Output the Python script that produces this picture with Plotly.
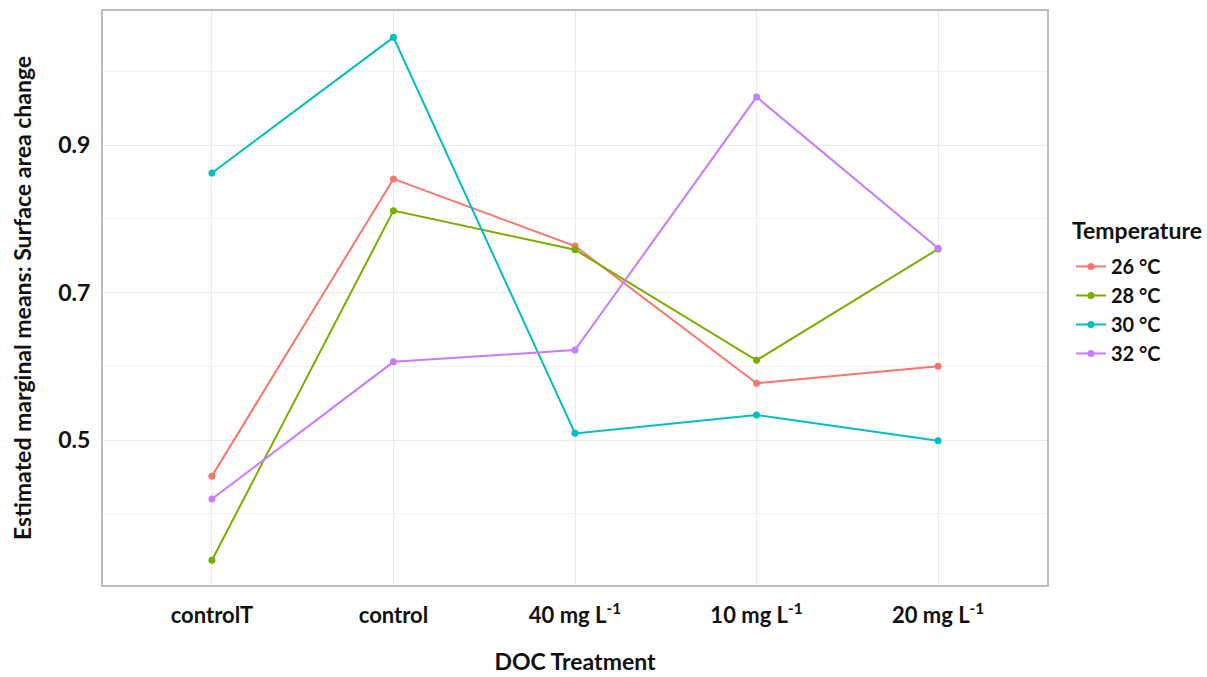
import plotly.graph_objects as go

# Estimated marginal means of surface area change by DOC treatment and temperature
treatments = ["controlT", "control", "40 mg L<sup>-1</sup>", "10 mg L<sup>-1</sup>", "20 mg L<sup>-1</sup>"]
temperatures = ["26 °C", "28 °C", "30 °C", "32 °C"]

emm_26 = [0.451, 0.854, 0.763, 0.577, 0.600]
emm_28 = [0.337, 0.811, 0.758, 0.608, 0.759]
emm_30 = [0.862, 1.046, 0.509, 0.534, 0.499]
emm_32 = [0.420, 0.606, 0.622, 0.965, 0.760]

series = [emm_26, emm_28, emm_30, emm_32]
colors = ["#F8766D", "#7CAE00", "#00BFC4", "#C77CFF"]

FONT = "Lato"
INK = "#111111"

fig = go.Figure()
for name, vals, col in zip(temperatures, series, colors):
    fig.add_trace(go.Scatter(
        x=list(range(len(treatments))), y=vals, name=f"<b>{name}</b>",
        mode="lines+markers",
        line=dict(color=col, width=2),
        marker=dict(color=col, size=7),
    ))

fig.update_layout(
    width=1207, height=677,
    margin=dict(l=103, r=160, t=11, b=92, autoexpand=False),
    paper_bgcolor="white", plot_bgcolor="white",
    font=dict(family=FONT, size=20, color=INK),
    showlegend=True,
    legend=dict(
        font=dict(size=20, family=FONT, color=INK),
        x=1.0254, xanchor="left", y=0.5889, yanchor="top",
        bgcolor="rgba(0,0,0,0)", itemwidth=30,
    ),
)

# legend heading
fig.add_annotation(
    text="<b>Temperature</b>", xref="paper", yref="paper",
    x=1.0244, y=0.6185, xanchor="left", yanchor="middle",
    showarrow=False, font=dict(size=23, family=FONT, color=INK),
)

fig.update_xaxes(
    range=[-0.6, 4.6],
    tickmode="array", tickvals=list(range(len(treatments))),
    ticktext=[f"<b>{t}</b>" for t in treatments],
    tickfont=dict(size=22, family=FONT, color=INK),
    showgrid=True, gridcolor="#EBEBEB", gridwidth=1,
    zeroline=False,
    showline=True, linecolor="#BDBDBD", linewidth=2, mirror=True,
    ticks="", ticklabelstandoff=10,
    automargin=False,
    title=dict(text="<b>DOC Treatment</b>", font=dict(size=23, family=FONT, color=INK), standoff=26),
)

fig.update_yaxes(
    range=[0.3034, 1.0817],
    tickmode="array", tickvals=[0.5, 0.7, 0.9],
    ticktext=["<b>0.5</b>", "<b>0.7</b>", "<b>0.9</b>"],
    tickfont=dict(size=23, family=FONT, color=INK),
    showgrid=True, gridcolor="#EBEBEB", gridwidth=1,
    minor=dict(tickvals=[0.4, 0.6, 0.8, 1.0], showgrid=True, gridcolor="#F2F2F2", gridwidth=1),
    zeroline=False,
    showline=True, linecolor="#BDBDBD", linewidth=2, mirror=True,
    ticks="", ticklabelstandoff=6,
    automargin=False,
    title=dict(text="<b>Estimated marginal means: Surface area change</b>",
               font=dict(size=23, family=FONT, color=INK), standoff=20),
)

fig.write_html("out.html")
